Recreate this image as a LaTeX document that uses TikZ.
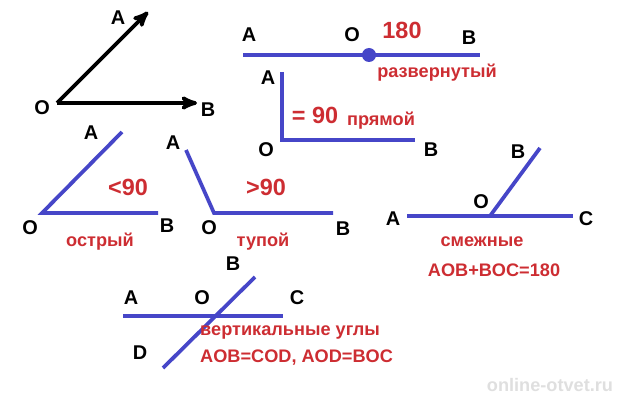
\documentclass[tikz,border=0pt]{standalone}
\usepackage{fontspec}
\setmainfont{Liberation Sans}
\usetikzlibrary{arrows,calc}
\definecolor{lineblue}{RGB}{70,70,200}
\definecolor{labred}{RGB}{205,45,50}
\tikzset{>=stealth',
	ray/.style={line width=3.2pt,lineblue},
	blk/.style={line width=3.2pt,black},
	lbl/.style={inner sep=0pt,font=\fontsize{17}{17}\selectfont\bfseries},
	rlbl/.style={inner sep=0pt,text=labred,font=\fontsize{15.5}{15.5}\selectfont\bfseries},
	blbl/.style={inner sep=0pt,text=labred,font=\fontsize{20}{20}\selectfont\bfseries}}
\begin{document}
\begin{tikzpicture}[x=0.03cm,y=-0.03cm]
	\useasboundingbox (0,0) rectangle (623,400);
	% black angle
	\coordinate (bO) at (57,103);
	\coordinate (bA) at (148,12);
	\coordinate (bB) at (197,103);
	\draw[blk,-{stealth'[scale=1.4]}] (bO) -- (bA);
	\draw[blk,-{stealth'[scale=1.4]}] (bO) -- (bB);
	\node[lbl] at (118,18) {A};
	\node[lbl] at (42,108) {O};
	\node[lbl] at (208,110) {B};
	% straight angle
	\coordinate (sA) at (243,55);
	\coordinate (sB) at (480,55);
	\coordinate (sO) at (369,55);
	\draw[ray] (sA) -- (sB);
	\fill[lineblue] (sO) circle (7);
	\node[lbl] at (249,35) {A};
	\node[lbl] at (352,35) {O};
	\node[blbl] at (402,30) {180};
	\node[lbl] at (469,38) {B};
	\node[rlbl] at (437,73) {развернутый};
	% right angle
	\coordinate (rA) at (282,72);
	\coordinate (rO) at (282,140);
	\coordinate (rB) at (415,140);
	\draw[ray] (rA) -- (rO) -- (rB);
	\node[lbl] at (268,78) {A};
	\node[blbl] at (315,115) {= 90};
	\node[rlbl] at (381,121) {прямой};
	\node[lbl] at (266,150) {O};
	\node[lbl] at (431,150) {B};
	% acute angle
	\coordinate (aO) at (42,213);
	\coordinate (aA) at (122,132);
	\coordinate (aB) at (158,213);
	\draw[ray] (aA) -- (aO) -- (aB);
	\node[lbl] at (91,133) {A};
	\node[blbl] at (128,187) {<90};
	\node[lbl] at (30,228) {O};
	\node[lbl] at (167,226) {B};
	\node[rlbl] at (100,242) {острый};
	% obtuse angle
	\coordinate (oO) at (214,213);
	\coordinate (oA) at (186,150);
	\coordinate (oB) at (333,213);
	\draw[ray] (oA) -- (oO) -- (oB);
	\node[lbl] at (173,143) {A};
	\node[blbl] at (266,187) {>90};
	\node[lbl] at (209,228) {O};
	\node[lbl] at (343,229) {B};
	\node[rlbl] at (263,242) {тупой};
	% adjacent angles
	\coordinate (jA) at (407,216);
	\coordinate (jC) at (573,216);
	\coordinate (jO) at (490,216);
	\coordinate (jB) at (540,148);
	\draw[ray] (jA) -- (jC);
	\draw[ray] (jO) -- (jB);
	\node[lbl] at (393,219) {A};
	\node[lbl] at (481,202) {O};
	\node[lbl] at (518,152) {B};
	\node[lbl] at (586,219) {C};
	\node[rlbl] at (482,242) {смежные};
	\node[rlbl] at (494,270) {AOB+BOC=180};
	% vertical angles
	\coordinate (vA) at (123,316);
	\coordinate (vC) at (283,316);
	\coordinate (vD) at (163,368);
	\coordinate (vB) at (255,277);
	\draw[ray] (vA) -- (vC);
	\draw[ray] (vD) -- (vB);
	\node[lbl] at (131,298) {A};
	\node[lbl] at (202,298) {O};
	\node[lbl] at (233,264) {B};
	\node[lbl] at (297,298) {C};
	\node[lbl] at (140,353) {D};
	\node[rlbl,anchor=west] at (200,332) {вертикальные углы};
	\node[rlbl,anchor=west] at (200,358) {AOB=COD, AOD=BOC};
	% watermark
	\node[rlbl,text=gray!25] at (550,385) {online-otvet.ru};
\end{tikzpicture}
\end{document}
